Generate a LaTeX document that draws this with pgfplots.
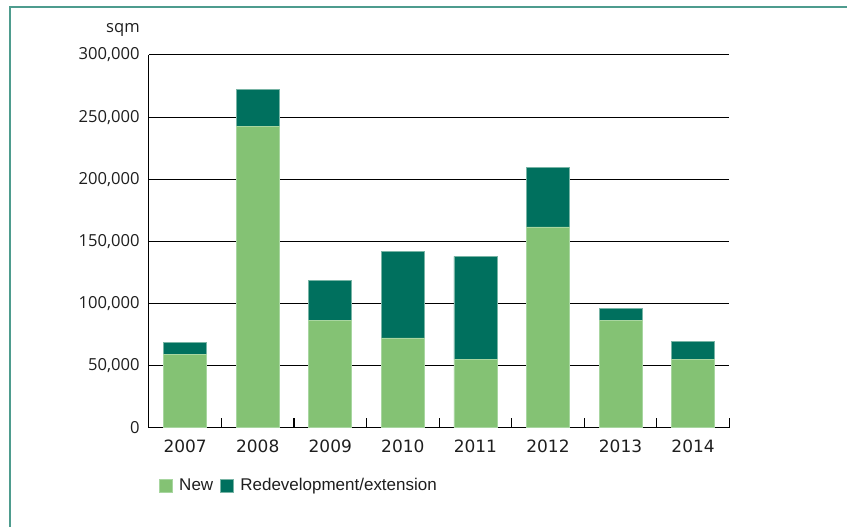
\documentclass[border=0pt]{standalone}
\usepackage{fontspec}
\setmainfont{Liberation Sans}
\newfontfamily\yfont{Open Sans}
\newfontfamily\xfont{DejaVu Sans}
\usepackage{pgfplots}
\pgfplotsset{compat=1.18}

\definecolor{newgreen}{RGB}{132,194,116}
\definecolor{redev}{RGB}{0,112,94}
\definecolor{frame}{RGB}{78,156,142}
\definecolor{txt}{RGB}{30,30,30}

\begin{document}
\begin{tikzpicture}
\path (0,0) rectangle (848bp,527bp);
\draw[frame,line width=1.5bp] (10bp,0bp) -- (10bp,520bp) -- (848bp,520bp);
\node[anchor=east,inner sep=0pt,text=txt,font=\yfont\fontsize{16.6bp}{19bp}\selectfont] at (140bp,497bp) {sqm};
\begin{axis}[at={(149bp,99bp)},anchor=south west,scale only axis,
 width=581bp,height=373bp,clip=false,
 ybar stacked,bar width=43bp,
 xmin=-0.5,xmax=7.5,ymin=0,ymax=300000,
 xtick={0,1,2,3,4,5,6,7},
 xticklabels={2007,2008,2009,2010,2011,2012,2013,2014},
 ytick={0,50000,100000,150000,200000,250000,300000},
 yticklabels={0,{50,000},{100,000},{150,000},{200,000},{250,000},{300,000}},
 tick style={draw=none},
 scaled y ticks=false,
 axis x line*=bottom,axis y line*=left,axis line style={-,black,line width=1.1bp},
 ymajorgrids=true,grid style={black,line width=1.1bp},
 yticklabel style={inner sep=0pt,xshift=-9bp,text=txt,font=\yfont\fontsize{16.6bp}{19bp}\selectfont},
 xticklabel style={inner sep=0pt,yshift=-12.5bp,text=txt,font=\xfont\fontsize{17bp}{19bp}\selectfont},
 legend columns=2,
 legend style={at={(axis description cs:0,0)},anchor=west,xshift=10bp,yshift=-58bp,
   draw=none,fill=none,inner sep=0pt,
   nodes={inner sep=0pt,text=txt,font=\fontsize{17bp}{19bp}\selectfont},
   /tikz/column sep=7bp},
 legend image code/.code={\fill[#1] (0bp,-6.3bp) rectangle (12.6bp,6.3bp);},
]
\addplot[fill=newgreen,draw={rgb,255:red,168;green,214;blue,160},line width=0.6bp]
 coordinates {(0,59000) (1,242400) (2,86200) (3,72300) (4,54800) (5,161500) (6,86000) (7,54700)};
\addplot[fill=redev,draw={rgb,255:red,120;green,180;blue,165},line width=0.6bp]
 coordinates {(0,9700) (1,30000) (2,32100) (3,69600) (4,83100) (5,47700) (6,9800) (7,14900)};
\legend{New,Redevelopment/extension}
\pgfplotsinvokeforeach{0.5,1.5,2.5,3.5,4.5,5.5,6.5,7.5}{
 \draw[black,line width=1.2bp] (axis cs:#1,0) -- ([yshift=10bp]axis cs:#1,0);
}
\end{axis}
\end{tikzpicture}
\end{document}
